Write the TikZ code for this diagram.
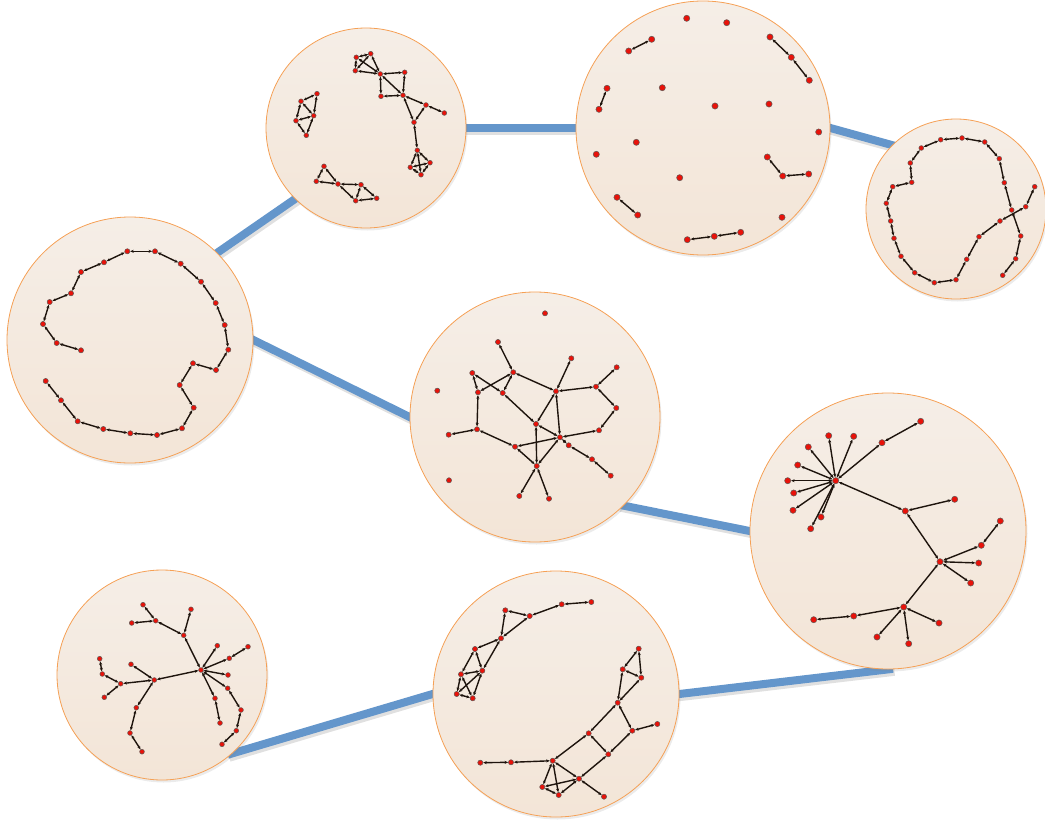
\documentclass[tikz,border=0pt]{standalone}
\usetikzlibrary{arrows.meta,shadows,backgrounds}
\definecolor{ring}{HTML}{F5A055}
\definecolor{fillA}{HTML}{F5EEE7}
\definecolor{fillB}{HTML}{F3E5D7}
\definecolor{linkc}{HTML}{6496CB}
\definecolor{dotred}{HTML}{E8120A}
\definecolor{edgec}{HTML}{1E140D}
\tikzset{
  bubble/.style={circle, draw=ring, line width=0.8pt, top color=fillA, bottom color=fillB, inner sep=0pt,
    drop shadow={opacity=0.16, shadow xshift=1.5pt, shadow yshift=-2.5pt}},
  dot/.style={circle, fill=dotred, draw=edgec!70, line width=0.5pt, inner sep=0pt, minimum size=5.2pt},
  bigdot/.style={dot, minimum size=6.2pt},
  smalldot/.style={dot, minimum size=4.8pt},
  edge/.style={draw=edgec, line width=1.4pt, <->, >={Stealth[length=3.6pt,width=3pt]}},
  linkline/.style={draw=linkc, line width=8pt, shorten <=-5pt, shorten >=-5pt},
  linkshadow/.style={draw=black!40, opacity=0.3, line width=9pt, shorten <=-5pt, shorten >=-5pt},
}
\begin{document}
\begin{tikzpicture}[x=1pt,y=-1pt]
\useasboundingbox (0,0) rectangle (1045,822);
% bubbles
\node[bubble, minimum size=200pt] (c1) at (366,128) {};
\node[bubble, minimum size=254pt] (c2) at (703,128) {};
\node[bubble, minimum size=180pt] (c3) at (956,209) {};
\node[bubble, minimum size=246pt] (c4) at (130,340) {};
\node[bubble, minimum size=250pt] (c5) at (535,417) {};
\node[bubble, minimum size=276pt] (c6) at (888,531) {};
\node[bubble, minimum size=210pt] (c7) at (162,675) {};
\node[bubble, minimum size=246pt] (c8) at (556,694) {};
% connectors
\begin{scope}[on background layer]
\foreach \a/\b in {c4.45/c1.225, c1.0/c2.180, c2.0/c3.135, c4.0/c5.180, c5.-45/c6.180, c6.270/c8.0, c8.180/c7.-48}{
  \draw[linkshadow] ([shift={(1.5,2.5)}]\a) -- ([shift={(1.5,2.5)}]\b);
  \draw[linkline] (\a) -- (\b);
}
\end{scope}
% ---------- graph 1
\foreach \n/\x/\y in {A1/356.3/57.3, A2/370.7/53.7, A3/355.3/70.7, A4/380.3/74, A5/404.7/72.3, A6/381/96.3, A7/403/95.3, A8/426/105, A9/444.3/113, A10/414/122.3, A11/417.3/150.3, A12/430/162.7, A13/410.3/167.3, A14/421/174.7, B1/317/93.7, B2/301/101.3, B3/313.7/115.7, B4/296/120.7, B5/306.3/135.3, C1/324/166.3, C2/316.3/181.3, C3/338/184, C4/361/184.7, C5/355.7/200.7, C6/376.7/198.3}
  \node[smalldot] (\n) at (\x,\y) {};
\foreach \u/\v in {A1/A2, A1/A3, A1/A4, A2/A3, A2/A4, A3/A4, A4/A5, A4/A6, A4/A7, A5/A7, A6/A7, A7/A8, A8/A9, A7/A10, A8/A10, A10/A11, A11/A12, A11/A13, A11/A14, A12/A13, A12/A14, A13/A14, B1/B2, B1/B3, B2/B3, B2/B4, B3/B4, B4/B5, B3/B5, C1/C2, C1/C3, C2/C3, C3/C4, C3/C5, C4/C5, C4/C6, C5/C6}
  \draw[edge] (\u) -- (\v);
% ---------- graph 2
\foreach \n/\x/\y in {D1/686.7/18.3, D2/726.7/22.7, D3/628.7/51, D4/651.7/39.3, D5/770/37, D6/791.3/57.3, D7/809.3/80.3, D8/607/88.3, D9/599/109.3, D10/662.3/87.7, D11/715/106, D12/769/104, D13/818.7/132, D14/636.3/142.3, D15/596.3/154.3, D16/767.3/157, D17/782.7/176, D18/808.7/174, D19/679.7/177.7, D20/617/197.3, D21/637.7/215, D22/782/217.3, D23/687.3/239.7, D24/714.3/236.3, D25/740.7/232.3}
  \node[bigdot] (\n) at (\x,\y) {};
\foreach \u/\v in {D3/D4, D5/D6, D6/D7, D8/D9, D16/D17, D17/D18, D20/D21, D23/D24, D24/D25}
  \draw[edge] (\u) -- (\v);
% ---------- graph 3
\foreach \n/\x/\y in {E1/1002.7/275.3, E2/1015.7/258.7, E3/1020.7/236, E4/1011.7/210, E5/1004.3/182.7, E6/999.3/158.7, E7/984.7/142, E8/962/138, E9/940.7/139.7, E10/921.3/148, E11/910.3/163, E12/911.7/182.3, E13/892.7/186.7, E14/886.3/203.3, E15/890.7/221, E16/894/238.3, E17/901/256.3, E18/914.7/272.7, E19/934.3/282.7, E20/956/279.7, E21/966.7/259.3, E22/979/236.7, E23/1000/221, E24/1025.7/206.7, E25/1034.7/186.7}
  \node[smalldot] (\n) at (\x,\y) {};
\foreach \u/\v in {E1/E2, E2/E3, E3/E4, E4/E5, E5/E6, E6/E7, E7/E8, E8/E9, E9/E10, E10/E11, E11/E12, E12/E13, E13/E14, E14/E15, E15/E16, E16/E17, E17/E18, E18/E19, E19/E20, E20/E21, E21/E22, E22/E23, E23/E24, E24/E25}
  \draw[edge] (\u) -- (\v);
% ---------- graph 4
\foreach \n/\x/\y in {F1/81/350.3, F2/56.7/343, F3/43/324, F4/49.7/302, F5/71/293.3, F6/81/272, F7/104/262.3, F8/127.3/251.3, F9/155/251.3, F10/180.7/263.7, F11/201/281.7, F12/215.7/303, F13/224.7/325, F14/228.3/349.7, F15/216/370, F16/193/363.3, F17/179.7/385, F18/193.7/407.7, F19/182/428.3, F20/157/435, F21/130.3/433.3, F22/103.3/429, F23/77.7/421.3, F24/61/400.3, F25/45.7/381}
  \node[dot] (\n) at (\x,\y) {};
\foreach \u/\v in {F1/F2, F2/F3, F3/F4, F4/F5, F5/F6, F6/F7, F7/F8, F8/F9, F9/F10, F10/F11, F11/F12, F12/F13, F13/F14, F14/F15, F15/F16, F16/F17, F17/F18, F18/F19, F19/F20, F20/F21, F21/F22, F22/F23, F23/F24, F24/F25}
  \draw[edge] (\u) -- (\v);
% ---------- graph 5
\foreach \n/\x/\y in {GI1/545/313.3, GI2/437.3/390.7, GI3/449/480.3, G1/498/342, G2/571.3/358.3, G3/616.7/367.3, G4/472.3/373, G5/513.3/372.3, G6/478/392.3, G7/502.7/393, G8/556/391.3, G9/596/386.7, G10/616.3/408, G11/536/424, G12/599/430.3, G13/448.7/434.7, G14/477/429.3, G15/560/437.3, G16/568.7/445.3, G17/515/446.7, G18/592/459.3, G19/610.7/475.7, G20/536.7/466, G21/519.3/496, G22/549/498.7}
  \node[dot] (\n) at (\x,\y) {};
\foreach \u/\v in {G1/G5, G4/G6, G4/G7, G6/G5, G5/G7, G7/G11, G5/G8, G2/G8, G8/G9, G3/G9, G9/G10, G10/G12, G12/G15, G8/G11, G8/G15, G6/G14, G13/G14, G14/G17, G17/G15, G11/G15, G15/G16, G16/G18, G18/G19, G11/G20, G17/G20, G15/G20, G20/G21, G20/G22}
  \draw[edge] (\u) -- (\v);
% ---------- graph 6
\foreach \n/\x/\y in {H0/835.7/480.7, H1/828.7/435.7, H2/853.7/436.3, H3/808.3/447, H4/797.7/465, H5/787.7/480.7, H6/793.7/493, H7/793/510.3, H8/821/517, H9/810.7/528.7, H10/882/442.7, H11/920.7/421.3, H12/905.3/511, H13/954.7/499.3, H14/940/561.7, H15/981.3/545.3, H16/1000.3/521, H17/978.7/563, H18/970.7/583, H19/903.7/607, H20/853.7/616, H21/813.7/619.7, H22/939/623, H23/877/637, H24/908.7/643.7}
  \node[bigdot] (\n) at (\x,\y) {};
\foreach \u/\v in {H0/H1, H0/H2, H0/H3, H0/H4, H0/H5, H0/H6, H0/H7, H0/H8, H0/H9, H0/H10, H10/H11, H0/H12, H12/H13, H12/H14, H14/H15, H15/H16, H14/H17, H14/H18, H14/H19, H19/H20, H20/H21, H19/H22, H19/H23, H19/H24}
  \draw[edge] (\u) -- (\v);
% ---------- graph 7
\foreach \n/\x/\y in {K0/201/670, K1/183.7/635.3, K2/155.7/620.7, K3/143/604.7, K4/131.7/623, K5/191/609.3, K6/217.3/645.7, K7/229.3/658.3, K8/248/646.7, K9/228/675, K10/215/698.3, K11/220/723, K12/227.7/688.3, K13/241/710, K14/236.3/730.7, K15/222/744.3, K16/154.3/680, K17/131/664.3, K18/120.7/683.7, K19/102.3/674, K20/99.7/658.7, K21/104.3/697.3, K22/136.3/707.7, K23/130/733, K24/142/751.7}
  \node[smalldot] (\n) at (\x,\y) {};
\foreach \u/\v in {K0/K1, K1/K2, K2/K3, K2/K4, K1/K5, K0/K6, K0/K7, K7/K8, K0/K9, K0/K10, K10/K11, K0/K12, K12/K13, K13/K14, K14/K15, K0/K16, K16/K17, K16/K18, K18/K19, K19/K20, K18/K21, K16/K22, K22/K23, K23/K24}
  \draw[edge] (\u) -- (\v);
% ---------- graph 8
\foreach \n/\x/\y in {T1/591.3/602, T2/561.7/604.3, T3/529.7/616, T4/505.3/610.3, T5/501/638.3, T6/475/649, T7/482.3/670.7, T8/461/674.3, T9/456.7/694, T10/472.7/698.3, R1/638.7/648.7, R2/622.7/669.3, R3/641.3/677.7, R4/617.7/702.7, R5/657.3/724, R6/632.3/730.7, R7/588.7/733.3, R8/608.3/754.3, R9/480.3/762.7, R10/511/762.3, R11/552.7/760.7, R12/579/778.7, R13/542.3/787, R14/558.7/795, R15/604/796.7}
  \node[dot] (\n) at (\x,\y) {};
\foreach \u/\v in {T1/T2, T2/T3, T3/T4, T3/T5, T4/T5, T5/T6, T5/T7, T6/T7, T6/T8, T7/T8, T7/T9, T7/T10, T8/T9, T8/T10, T9/T10, R1/R2, R1/R3, R2/R3, R2/R4, R3/R4, R4/R7, R4/R6, R6/R5, R6/R8, R7/R8, R7/R11, R8/R12, R9/R10, R10/R11, R11/R12, R11/R13, R11/R14, R12/R13, R12/R14, R13/R14, R12/R15}
  \draw[edge] (\u) -- (\v);
\end{tikzpicture}
\end{document}
